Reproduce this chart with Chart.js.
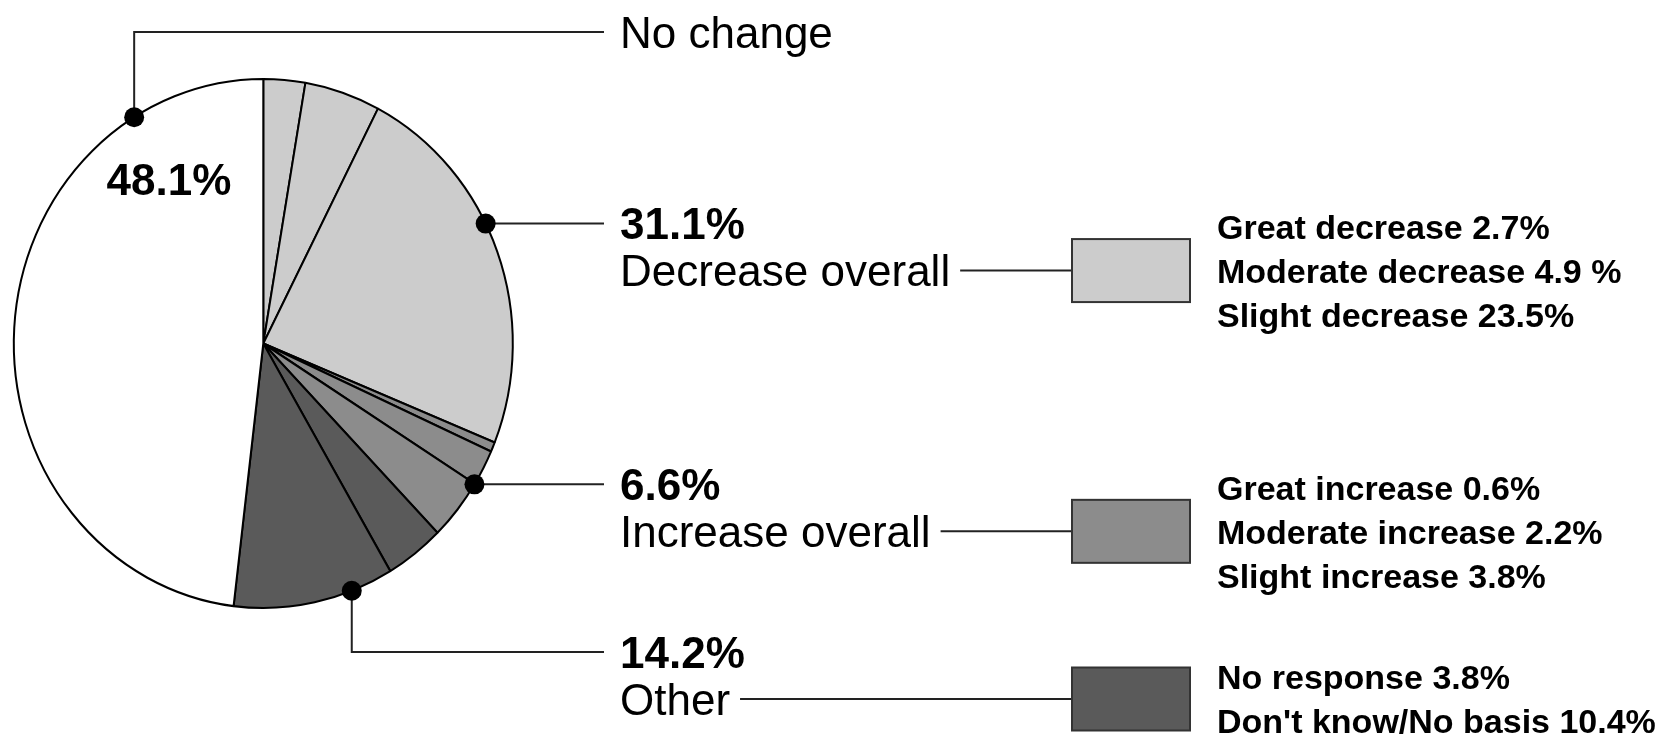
<!DOCTYPE html>
<html>
<head>
<meta charset="utf-8">
<script src="https://cdn.jsdelivr.net/npm/chart.js@4.4.1/dist/chart.umd.min.js"></script>
<style>
  html, body { margin: 0; padding: 0; background: #ffffff; }
  #chart { display: block; }
</style>
</head>
<body>
<canvas id="chart" width="1674" height="737"></canvas>
<script>
// ================================
// DATA
// ================================
var sliceLabels = ["Great decrease", "Moderate decrease", "Slight decrease",
                   "Great increase", "Moderate increase", "Slight increase",
                   "No response", "Don't know/No basis", "No change"];
var sliceValues = [2.7, 4.9, 23.5, 0.6, 2.2, 3.8, 3.8, 10.4, 48.1];
var sliceGroup  = [1, 1, 1, 2, 2, 2, 3, 3, 0];

var groupNames  = ["No change", "Decrease overall", "Increase overall", "Other"];
var groupTotals = [48.1, 31.1, 6.6, 14.2];
var groupColors = ["#ffffff", "#cccccc", "#8c8c8c", "#5a5a5a"];

var legendLines = [
  [],
  ["Great decrease 2.7%", "Moderate decrease 4.9 %", "Slight decrease 23.5%"],
  ["Great increase 0.6%", "Moderate increase 2.2%", "Slight increase 3.8%"],
  ["No response 3.8%", "Don't know/No basis 10.4%"]
];

// ================================
// LAYOUT (positions / sizes only)
// ================================
var pieCx = 263.3, pieCy = 343.5, pieR = 249.5, pieStretchY = 1.06;
var dotAt    = [0.82, 0.563, 0.43, 0.46];   // where the dot sits inside each group's arc
var elbowY   = [32, null, null, 652];       // labels reached by an elbow line
var lineEndX = 604, labelX = 620, lineGap = 47;
var boxX = 1072, boxW = 118, boxH = 63, legendX = 1217, legendGap = 44;
var insideLabel = { x: 169, y: 179 };
var FONT = '"Liberation Sans", Arial, Helvetica, sans-serif';

function capText(ctx, text, x, yMid, size, bold, align) {
  ctx.font = (bold ? "bold " : "") + size + "px " + FONT;
  ctx.textAlign = align || "left";
  ctx.textBaseline = "alphabetic";
  ctx.fillStyle = "#000000";
  ctx.fillText(text, x, yMid + size * 0.716 / 2);
  return ctx.measureText(text).width;
}

var annotate = {
  id: "annotate",
  beforeDatasetsDraw: function (chart) {
    var ctx = chart.ctx;
    ctx.save();
    ctx.translate(pieCx, pieCy);
    ctx.scale(1, pieStretchY);
    ctx.translate(-pieCx, -pieCy);
  },
  afterDatasetsDraw: function (chart) {
    chart.ctx.restore();
  },
  afterDraw: function (chart) {
    var ctx = chart.ctx;
    var arcs = chart.getDatasetMeta(0).data;
    var cx = arcs[0].x, cy = arcs[0].y, r = arcs[0].outerRadius;

    // angular span of each group
    var spans = [];
    for (var i = 0; i < arcs.length; i++) {
      var g = sliceGroup[i];
      if (!spans[g]) spans[g] = { a: arcs[i].startAngle, b: arcs[i].endAngle };
      spans[g].a = Math.min(spans[g].a, arcs[i].startAngle);
      spans[g].b = Math.max(spans[g].b, arcs[i].endAngle);
    }

    ctx.save();
    for (var g = 0; g < groupNames.length; g++) {
      var t = spans[g].a + (spans[g].b - spans[g].a) * dotAt[g];
      var dx = cx + r * Math.cos(t);
      var dy = cy + pieStretchY * r * Math.sin(t);
      var ly = elbowY[g] !== null ? elbowY[g] : dy;

      // leader line
      ctx.strokeStyle = "#222222";
      ctx.lineWidth = 2;
      ctx.beginPath();
      ctx.moveTo(dx, dy);
      if (elbowY[g] !== null) ctx.lineTo(dx, ly);
      ctx.lineTo(lineEndX, ly);
      ctx.stroke();

      // dot
      ctx.fillStyle = "#000000";
      ctx.beginPath();
      ctx.arc(dx, dy, 10, 0, Math.PI * 2);
      ctx.fill();

      if (g === 0) {
        capText(ctx, groupNames[g], labelX, ly, 44, false);
        capText(ctx, groupTotals[g].toFixed(1) + "%", insideLabel.x, insideLabel.y, 44, true, "center");
        continue;
      }

      capText(ctx, groupTotals[g].toFixed(1) + "%", labelX, ly, 44, true);
      var y2 = ly + lineGap;
      var w = capText(ctx, groupNames[g], labelX, y2, 44, false);

      // connector to legend box
      ctx.strokeStyle = "#222222";
      ctx.lineWidth = 2;
      ctx.beginPath();
      ctx.moveTo(labelX + w + 10, y2);
      ctx.lineTo(boxX, y2);
      ctx.stroke();

      // legend box
      ctx.fillStyle = groupColors[g];
      ctx.fillRect(boxX, y2 - boxH / 2, boxW, boxH);
      ctx.strokeStyle = "#333333";
      ctx.lineWidth = 2;
      ctx.strokeRect(boxX, y2 - boxH / 2, boxW, boxH);

      // legend text, centred on the box
      var lines = legendLines[g];
      var first = y2 - (lines.length - 1) * legendGap / 2;
      for (var k = 0; k < lines.length; k++) {
        capText(ctx, lines[k], legendX, first + k * legendGap, 34, true);
      }
    }
    ctx.restore();
  }
};

var sliceColors = sliceGroup.map(function (g) { return groupColors[g]; });

new Chart(document.getElementById("chart").getContext("2d"), {
  type: "pie",
  data: {
    labels: sliceLabels,
    datasets: [{
      data: sliceValues,
      backgroundColor: sliceColors,
      borderColor: "#000000",
      borderWidth: 2,
      hoverOffset: 0,
      clip: false
    }]
  },
  options: {
    responsive: false,
    animation: false,
    events: [],
    radius: pieR,
    layout: {
      padding: { left: 0, top: 0, right: 1674 - 2 * pieCx, bottom: 737 - 2 * pieCy }
    },
    plugins: {
      legend: { display: false },
      tooltip: { enabled: false }
    }
  },
  plugins: [annotate]
});
</script>
</body>
</html>
